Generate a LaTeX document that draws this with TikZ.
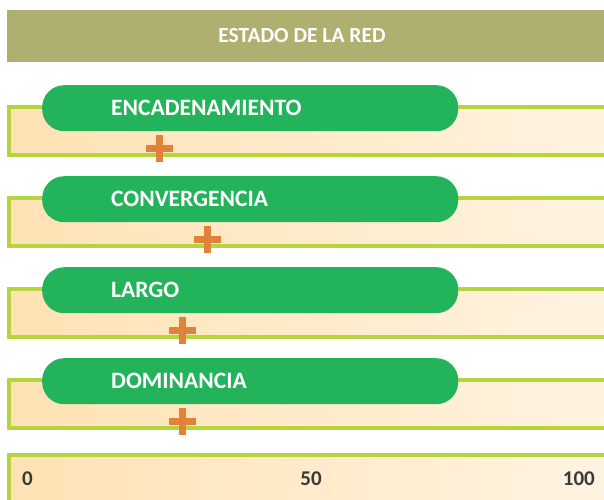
\documentclass[tikz,border=0pt]{standalone}
\usepackage{fontspec}
\setmainfont{Carlito}
\definecolor{hdr}{RGB}{175,175,112}
\definecolor{pillg}{RGB}{35,179,90}
\definecolor{bord}{RGB}{181,212,62}
\definecolor{fillA}{RGB}{255,226,180}
\definecolor{fillB}{RGB}{255,244,226}
\definecolor{plusc}{RGB}{224,130,58}
\definecolor{numc}{RGB}{58,58,58}
\tikzset{
  pill/.style={fill=pillg, draw=none, rounded corners=22pt, minimum width=416pt, minimum height=46pt, anchor=north west, inner sep=0pt},
  pilltext/.style={text=white, font=\fontsize{23.5}{28}\selectfont\bfseries, anchor=west, inner sep=0pt},
  numtext/.style={text=numc, font=\fontsize{21}{25}\selectfont\bfseries, inner sep=0pt},
  bandborder/.style={draw=bord, line width=4pt},
  bandfill/.style={left color=fillA, right color=fillB},
  plusbar/.style={fill=plusc, draw=none}
}
\begin{document}
\begin{tikzpicture}[x=1pt,y=-1pt]
\useasboundingbox (0,0) rectangle (604,499);
\clip (0,0) rectangle (604,499);
\fill[white] (0,0) rectangle (604,499);
% header
\node (hdr) [fill=hdr, minimum width=600pt, minimum height=52pt, anchor=north west, inner sep=0pt] at (7,10) {};
\node (title) [text=white, font=\fontsize{21.5}{26}\selectfont\bfseries, inner sep=0pt] at (302,36) {ESTADO DE LA RED};
% rows
\foreach \t/\lab/\px/\nm in {85/ENCADENAMIENTO/159/r1, 176/CONVERGENCIA/207/r2, 267/LARGO/182/r3, 358/DOMINANCIA/182/r4}{
  \shade[bandfill] (9,\t+22) rectangle (620,\t+70);
  \draw[bandborder] (620,\t+22) -- (9,\t+22) -- (9,\t+70) -- (620,\t+70);
  \node (pill\nm) [pill] at (42,\t) {};
  \node (lab\nm) [pilltext] at (111,\t+23) {\lab};
  \fill[plusbar] (\px-13.5,\t+59.5) rectangle (\px+13.5,\t+66.5);
  \fill[plusbar] (\px-3.5,\t+50) rectangle (\px+3.5,\t+77);
}
% bottom scale
\shade[bandfill] (9,455) rectangle (620,520);
\draw[bandborder] (620,455) -- (9,455) -- (9,520);
\node (n0) [numtext, anchor=west] at (22,479) {0};
\node (n50) [numtext] at (311,479) {50};
\node (n100) [numtext, anchor=east] at (595,479) {100};
\end{tikzpicture}
\end{document}
